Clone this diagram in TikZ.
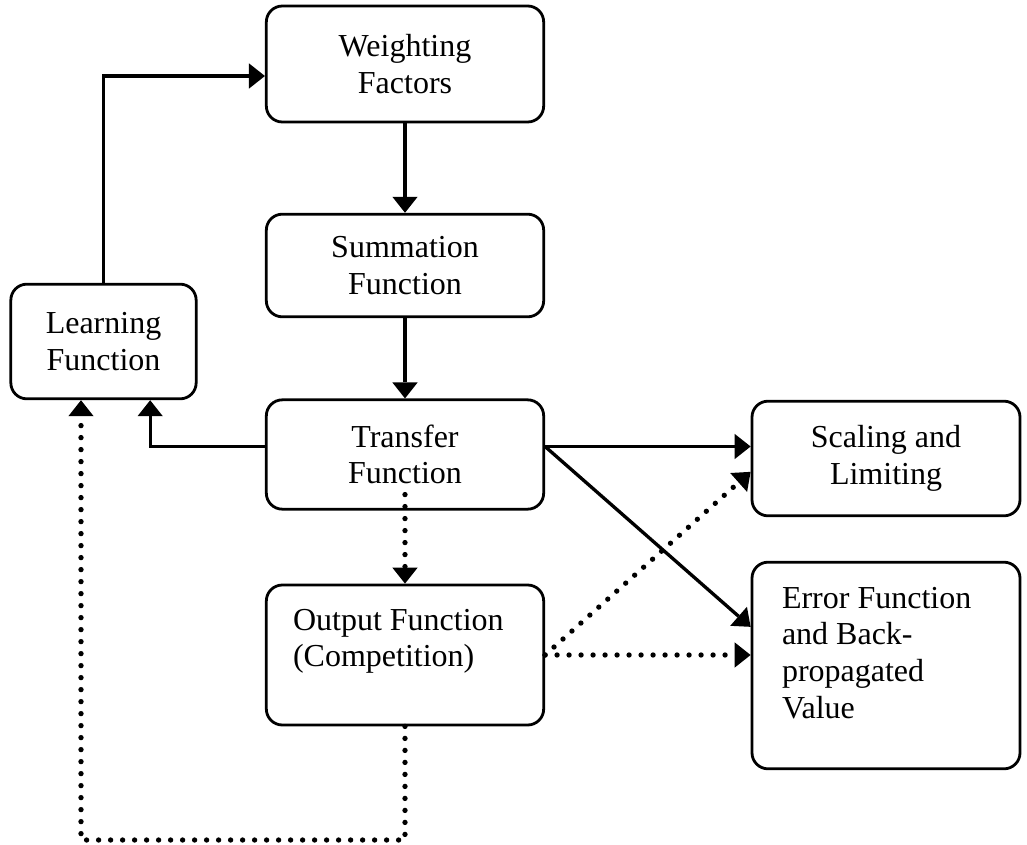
\documentclass[tikz,border=0pt]{standalone}
\usepackage{fontspec}
\setmainfont{Liberation Serif}
\usetikzlibrary{arrows.meta}

\begin{document}
\begin{tikzpicture}[x=0.75pt, y=-0.75pt,
    box/.style={draw, line width=2.1pt, rounded corners=12pt, align=center, inner sep=0pt,
        font=\fontsize{24}{27.5}\selectfont},
    leftbox/.style={box, align=left, inner xsep=20pt, text height=16pt,
        execute at begin node={\spaceskip=0pt\xspaceskip=0pt\relax}},
    flow/.style={line width=2.5pt, -{Triangle[length=12pt, width=19pt, line width=0pt]}},
    dots/.style={line width=4pt, line cap=round, dash pattern=on 0pt off 9pt,
        -{Triangle[length=12pt, width=19pt, line width=0pt]}}]
    \useasboundingbox (0,0) rectangle (1027,845);

    % Boxes
    \node[box, minimum width=208pt, minimum height=87pt] (weight) at (405,64) {Weighting\\Factors};
    \node[box, minimum width=208pt, minimum height=77pt] (sum) at (405,265.5) {Summation\\Function};
    \node[box, minimum width=208pt, minimum height=82pt] (trans) at (405,454.5) {Transfer\\Function};
    \node[leftbox, text width=168pt, minimum height=105pt, text depth=53.5pt] (out) at (405,655) {Output Function\\(Competition)};
    \node[box, minimum width=139pt, minimum height=86pt] (learn) at (103.5,341.5) {Learning\\Function};
    \node[box, minimum width=201pt, minimum height=86pt] (scale) at (886,458.5) {Scaling and\\Limiting};
    \node[leftbox, inner xsep=22.5pt, text width=156pt, minimum height=155pt, text depth=102pt] (err) at (886,665.5) {Error Function\\and Back-\\propagated\\Value};

    % Solid connectors
    \draw[flow] (learn.north) |- ([yshift=-9pt]weight.west);
    \draw[flow] (weight.south) -- (sum.north);
    \draw[flow] (sum.south) -- (trans.north);
    \draw[flow] ([yshift=6pt]trans.west) -| ([xshift=35pt]learn.south);
    \draw[flow] ([yshift=6pt]trans.east) coordinate (te) -- (te -| scale.west);
    \draw[flow] (te) -- ([yshift=29pt]err.west);

    % Dotted connectors
    \coordinate (corner) at (81,840);
    \draw[dots] (out.south) |- (corner) -- (corner |- learn.south);
    \draw[dots] ([yshift=12pt]trans.south) -- (out.north);
    \draw[dots] (out.east) -- ([yshift=-10pt]scale.west);
    \draw[dots] (out.east) -- (out.east -| err.west);
\end{tikzpicture}
\end{document}
